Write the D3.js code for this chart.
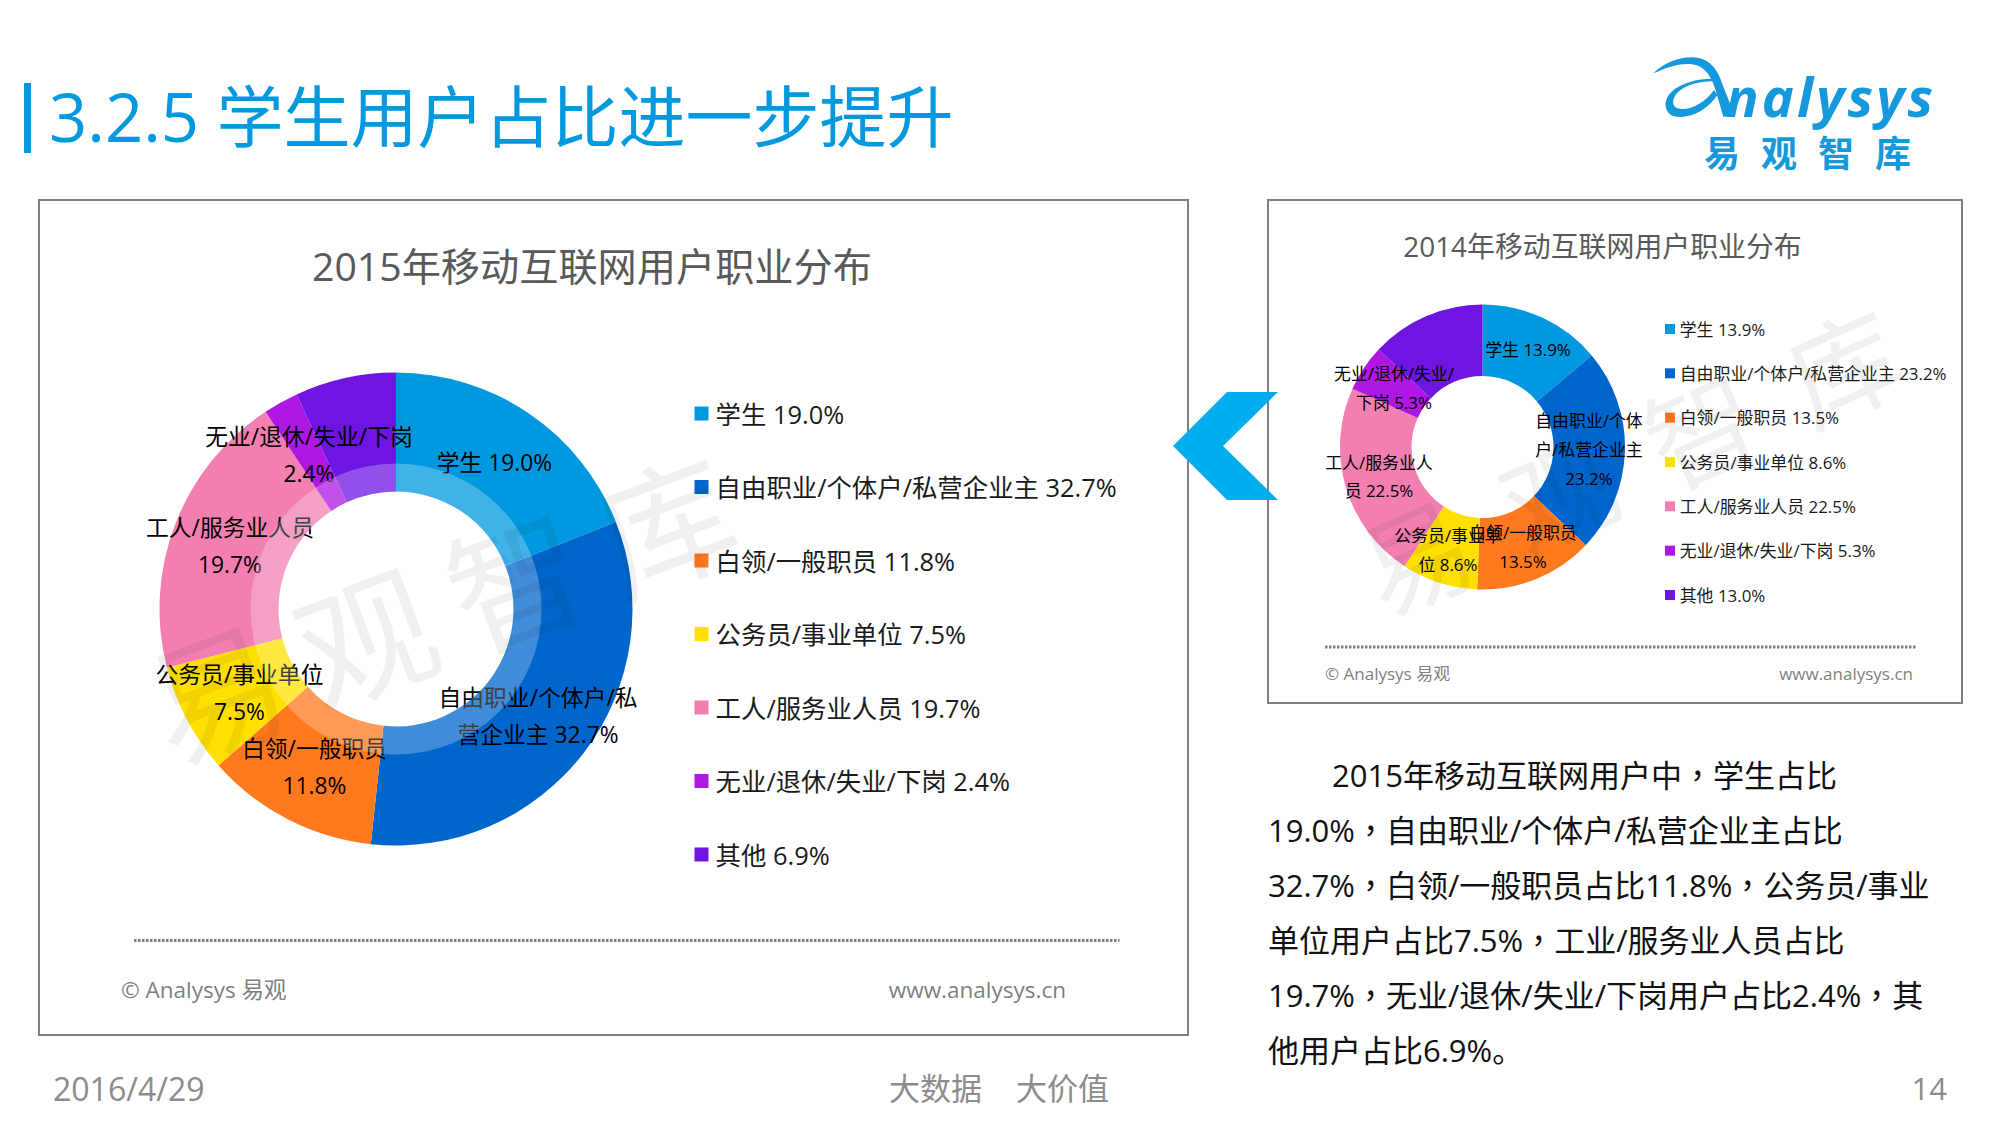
<!DOCTYPE html>
<html>
<head>
<meta charset="utf-8">
<script src="https://cdn.jsdelivr.net/npm/d3@7"></script>
<style>
  @font-face { font-family: "CentredComma"; src: local("Noto Sans CJK TC"); unicode-range: U+FF0C; }
  html, body { margin: 0; padding: 0; background: #fff; }
  svg { display: block; }
  text { font-family: "CentredComma", "Open Sans", "Noto Sans CJK SC", sans-serif; }
</style>
</head>
<body>
<script>
// categories and values
var categories = ["学生", "自由职业/个体户/私营企业主", "白领/一般职员", "公务员/事业单位", "工人/服务业人员", "无业/退休/失业/下岗", "其他"];
var values2015 = [19.0, 32.7, 11.8, 7.5, 19.7, 2.4, 6.9];
var values2014 = [13.9, 23.2, 13.5, 8.6, 22.5, 5.3, 13.0];
var colors = ["#0098df", "#0066cc", "#ff7a1e", "#ffe000", "#f27fb0", "#ae17e4", "#6e15e2"];

// wrapped slice labels, as they break in the picture
var labels2015 = [["学生 19.0%"], ["自由职业/个体户/私", "营企业主 32.7%"], ["白领/一般职员", "11.8%"], ["公务员/事业单位", "7.5%"], ["工人/服务业人员", "19.7%"], ["无业/退休/失业/下岗", "2.4%"], []];
var labels2014 = [["学生 13.9%"], ["自由职业/个体", "户/私营企业主", "23.2%"], ["白领/一般职员", "13.5%"], ["公务员/事业单", "位 8.6%"], ["工人/服务业人", "员 22.5%"], ["无业/退休/失业/", "下岗 5.3%"], []];
var labelPos2015 = [[494.5, 462.5], [538, 697], [314.5, 748], [239.5, 674], [230, 527], [309, 436], null];
var labelPos2014 = [[1528, 349], [1589, 420.7], [1523, 532.4], [1448, 535.7], [1379, 462], [1394, 373.7], null];

var bodyLines = ["2015年移动互联网用户中，学生占比", "19.0%，自由职业/个体户/私营企业主占比", "32.7%，白领/一般职员占比11.8%，公务员/事业", "单位用户占比7.5%，工业/服务业人员占比", "19.7%，无业/退休/失业/下岗用户占比2.4%，其", "他用户占比6.9%。"];

var svg = d3.select("body").append("svg").attr("width", 2000).attr("height", 1125);

function addText(x, y, str, size, color, anchor) {
  return svg.append("text")
    .attr("x", x)
    .attr("y", y)
    .attr("font-size", size)
    .attr("fill", color)
    .attr("text-anchor", anchor || "start")
    .attr("dominant-baseline", "central")
    .text(str);
}

function makeBox(x, y, w, h) {
  svg.append("rect")
    .attr("x", x).attr("y", y).attr("width", w).attr("height", h)
    .attr("fill", "#fff").attr("stroke", "#7f7f7f").attr("stroke-width", 2);
}

function makeDonut(values, cx, cy, outer, inner) {
  var pie = d3.pie().sort(null).value(function(d) { return d; });
  var arc = d3.arc().innerRadius(inner).outerRadius(outer);
  svg.append("g")
    .attr("transform", "translate(" + cx + "," + cy + ")")
    .selectAll("path")
    .data(pie(values))
    .enter().append("path")
      .attr("d", arc)
      .attr("fill", function(d, i) { return colors[i]; });
}

function makeLegend(values, x, top, bottom, box, size) {
  var y = d3.scalePoint().domain(categories).range([top, bottom]);
  categories.forEach(function(c, i) {
    svg.append("rect")
      .attr("x", x).attr("y", y(c) - box / 2)
      .attr("width", box).attr("height", box)
      .attr("fill", colors[i]);
    addText(x + box + size * 0.28, y(c), c + " " + values[i].toFixed(1) + "%", size, "#1a1a1a");
  });
}

function makeLabels(labels, pos, size, gap) {
  labels.forEach(function(lines, i) {
    lines.forEach(function(line, j) {
      addText(pos[i][0], pos[i][1] + j * gap, line, size, "#000", "middle");
    });
  });
}

function makeWatermark(cx, cy, size, spacing, angle) {
  svg.append("text")
    .attr("transform", "translate(" + cx + "," + cy + ") rotate(" + angle + ")")
    .attr("x", spacing / 2)
    .attr("text-anchor", "middle")
    .attr("dominant-baseline", "central")
    .attr("font-size", size)
    .attr("letter-spacing", spacing)
    .attr("fill", "#000")
    .attr("fill-opacity", 0.06)
    .text("易观智库");
}

function makeFooter(x1, x2, lineY, textY, textL, textR, size) {
  svg.append("line")
    .attr("x1", x1).attr("x2", x2).attr("y1", lineY).attr("y2", lineY)
    .attr("stroke", "#7f7f7f").attr("stroke-width", 3).attr("stroke-dasharray", "2.5 1.5");
  addText(textL, textY, "© Analysys 易观", size, "#7f7f7f");
  addText(textR, textY, "www.analysys.cn", size, "#7f7f7f", "end");
}

function makeLogo() {
  var blue = "#1699dc";
  var mark = svg.append("g").attr("transform", "translate(1640,40) scale(0.3333)");
  mark.append("path")
    .attr("d", "M40,100 C80,60 140,45 180,55 C225,68 240,110 250,140 L285,228 L250,230 L225,145 C210,100 190,75 150,72 C110,70 75,85 40,100 Z")
    .attr("fill", blue);
  mark.append("path")
    .attr("d", "M240,118 C190,112 130,125 95,155 C70,178 70,215 100,228 C140,240 200,215 232,165 L222,150 C195,190 145,215 112,205 C95,198 95,175 115,155 C145,130 195,120 240,125 Z")
    .attr("fill", blue);
  svg.append("text")
    .attr("x", 1726).attr("y", 116.5)
    .attr("font-size", 54).attr("font-style", "italic").attr("font-weight", 700)
    .attr("textLength", 207)
    .attr("fill", blue)
    .text("nalysys");
  svg.append("text")
    .attr("x", 1704).attr("y", 153)
    .attr("dominant-baseline", "central")
    .attr("font-size", 36).attr("font-weight", 700).attr("letter-spacing", 21)
    .attr("fill", blue)
    .text("易观智库");
}

function main() {
  // heading
  svg.append("rect").attr("x", 24).attr("y", 83).attr("width", 7).attr("height", 70).attr("fill", "#0098df");
  addText(49, 116, "3.2.5 学生用户占比进一步提升", 67, "#0098df");
  makeLogo();

  // 2015 panel
  makeBox(39, 200, 1149, 835);
  addText(592, 265.5, "2015年移动互联网用户职业分布", 39.2, "#595959", "middle");
  makeDonut(values2015, 396, 609, 236.5, 117.5);
  makeLegend(values2015, 694.5, 413.5, 854.5, 14, 25.4);
  makeLabels(labels2015, labelPos2015, 22.8, 37);
  // the light ring lies over the slice labels
  var ring = d3.arc().innerRadius(117.5).outerRadius(145.5).startAngle(0).endAngle(2 * Math.PI);
  svg.append("path")
    .attr("transform", "translate(396,609)")
    .attr("d", ring())
    .attr("fill", "#fff").attr("fill-opacity", 0.25);
  makeWatermark(441, 610, 135, 25, -20.5);
  makeFooter(134, 1119.5, 940.5, 989, 121, 1066, 22.5);

  // 2014 panel
  makeBox(1268, 200, 694, 503);
  addText(1602.5, 245.5, "2014年移动互联网用户职业分布", 27.9, "#595959", "middle");
  makeDonut(values2014, 1482.5, 447, 142.5, 71);
  makeLegend(values2014, 1665, 329, 595, 10, 16.9);
  makeLabels(labels2014, labelPos2014, 16.9, 28.7);
  makeWatermark(1630, 462, 110, 46, -24);
  makeFooter(1325, 1917, 647, 673, 1325, 1913, 17);

  // arrow between the panels
  svg.append("polygon")
    .attr("points", "1173,446 1227,392 1278,392 1223,446 1278,500 1227,500")
    .attr("fill", "#00aeef");

  // commentary
  bodyLines.forEach(function(line, i) {
    addText(i === 0 ? 1332 : 1268, 775 + i * 55, line, 31, "#111");
  });

  // page footer
  addText(53, 1088, "2016/4/29", 32, "#8c8c8c");
  addText(889, 1088, "大数据", 31, "#8c8c8c");
  addText(1016, 1088, "大价值", 31, "#8c8c8c");
  addText(1947, 1088, "14", 31, "#8c8c8c", "end");
}

main();
</script>
</body>
</html>
